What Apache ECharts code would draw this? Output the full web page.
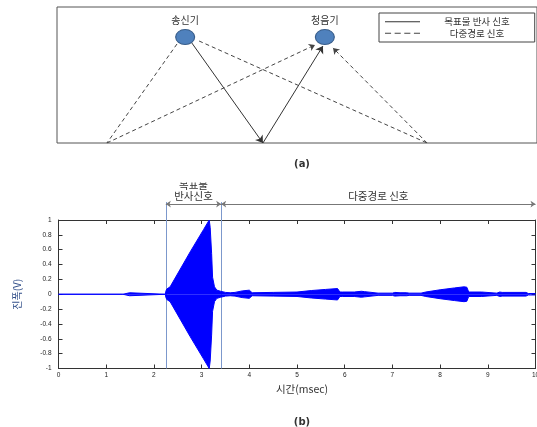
<!DOCTYPE html>
<html>
<head>
<meta charset="utf-8">
<script src="https://cdn.jsdelivr.net/npm/echarts@6/dist/echarts.min.js"></script>
<style>
  html, body { margin: 0; padding: 0; background: #fff; }
  #chart { width: 537px; height: 427px; }
</style>
</head>
<body>
<div id="chart"></div>
<script>
// (a) 배치도 - positions on a 0..100 schematic scale
const nodeNames = ['송신기', '청음기'];
const nodePos = [[26.7, 77.9], [55.8, 77.9]];
const directPath = [[28.1, 73.5], [42.9, 0], [55.4, 71.3]];
const multiPathA = [[25.0, 72.8], [10.4, 0], [53.75, 72.1]];
const multiPathB = [[29.6, 75.0], [77.1, 0], [57.5, 69.9]];
const legendNames = ['목표물 반사 신호', '다중경로 신호'];

// (b) 수신 신호 envelope (msec, V)
const sigTime = [0, 1.35, 1.36, 1.49, 1.5, 2.24, 2.25, 2.27, 2.34, 2.76, 3.04, 3.16, 3.18, 3.21, 3.23,
  3.27, 3.32, 3.4, 3.5, 3.6, 3.7, 3.85, 4.0, 4.06, 4.1, 4.5, 5.0, 5.3, 5.6, 5.85, 5.9, 5.95, 6.2,
  6.35, 6.42, 6.46, 6.7, 7.0, 7.05, 7.16, 7.3, 7.35, 7.6, 7.7, 8.0, 8.3, 8.5, 8.56, 8.6, 8.87, 8.9,
  9.19, 9.25, 9.3, 9.8, 9.85, 10];
const sigAmp = [0, 0, 0.02, 0.02, 0, 0, 0.04, 0.07, 0.1, 0.57, 0.87, 1.0, 0.9, 0.55, 0.23,
  0.1, 0.055, 0.04, 0.025, 0.02, 0.025, 0.045, 0.055, 0.02, 0.025, 0.025, 0.03, 0.05, 0.065, 0.077, 0.03, 0.03, 0.03,
  0.04, 0.035, 0.015, 0.015, 0.015, 0.025, 0.02, 0.02, 0.015, 0.015, 0.03, 0.06, 0.085, 0.1, 0.095, 0.03, 0.03, 0.015,
  0.015, 0.03, 0.025, 0.025, 0.01, 0.01];

// 구간 표시
const echoStart = 2.25;
const echoEnd = 3.41;
const arrowLevel = 1.216;
const markerTop = 1.243;
const xTicks = [0, 10, 1];
const yTicks = [-1, 1, 0.2];

const chart = echarts.init(document.getElementById('chart'));

const upper = sigTime.map((t, i) => [t, sigAmp[i]]);
const lower = sigTime.map((t, i) => [t, -sigAmp[i]]);
const seg = (p, a, b) => ({ coords: [p[a], p[b]] });

const tickFont = { fontSize: 6.5, color: '#222', fontFamily: 'Liberation Sans' };
const krFont = 'Noto Sans CJK KR';
const gridBase = { containLabel: false, outerBoundsMode: 'none' };

chart.setOption({
    animation: false,
    title: [
        { text: '(a)', left: 297, top: 154, textAlign: 'center',
          textStyle: { fontSize: 10, fontWeight: 'bold', color: '#333', fontFamily: 'DejaVu Sans' } },
        { text: '(b)', left: 297, top: 412, textAlign: 'center',
          textStyle: { fontSize: 10, fontWeight: 'bold', color: '#333', fontFamily: 'DejaVu Sans' } }
    ],
    legend: {
        orient: 'vertical',
        left: 379, top: 13,
        padding: [4, 25, 4, 6],
        borderColor: '#444', borderWidth: 1,
        itemWidth: 35, itemHeight: 8, itemGap: 2,
        itemStyle: { borderWidth: 0 },
        lineStyle: { width: 0 },
        formatter: name => '{c|' + name + '}',
        textStyle: {
            fontSize: 9, color: '#333', fontFamily: krFont,
            rich: { c: { width: 84, align: 'center', padding: [0, 0, 0, 10], fontSize: 9.5, color: '#333', fontFamily: krFont } }
        },
        data: [
            { name: legendNames[0], icon: 'path://M0,0H35V1H0Z' },
            { name: legendNames[1], icon: 'path://M0,0H6V1H0ZM9.5,0H15.5V1H9.5ZM19,0H25V1H19ZM28.5,0H34.5V1H28.5Z' }
        ]
    },
    grid: [
        Object.assign({ left: 57, top: 7, right: 0, height: 136, show: true, borderColor: '#555', borderWidth: 1 }, gridBase),
        Object.assign({ left: 58.5, top: 220, right: 1.5, height: 148.5 }, gridBase),
        Object.assign({ left: 58.5, top: 183, right: 1.5, height: 185.5 }, gridBase)
    ],
    xAxis: [
        { gridIndex: 0, type: 'value', min: 0, max: 100, show: false },
        { gridIndex: 1, type: 'value', min: xTicks[0], max: xTicks[1], interval: xTicks[2],
          name: '시간(msec)', nameLocation: 'middle', nameGap: 15,
          nameTextStyle: { fontSize: 10.5, color: '#333', fontFamily: krFont, padding: [0, 0, 0, 10] },
          axisLine: { onZero: false, lineStyle: { color: '#333' } },
          axisTick: { inside: true, length: 4, lineStyle: { color: '#333' } },
          axisLabel: Object.assign({ margin: 3 }, tickFont),
          splitLine: { show: false } },
        { gridIndex: 1, type: 'value', position: 'top', min: xTicks[0], max: xTicks[1], interval: xTicks[2],
          axisLine: { onZero: false, lineStyle: { color: '#333' } },
          axisTick: { inside: true, length: 4, lineStyle: { color: '#333' } },
          axisLabel: { show: false }, splitLine: { show: false } },
        { gridIndex: 2, type: 'value', min: 0, max: 10, show: false }
    ],
    yAxis: [
        { gridIndex: 0, type: 'value', min: 0, max: 100, show: false },
        { gridIndex: 1, type: 'value', min: yTicks[0], max: yTicks[1], interval: yTicks[2],
          name: '진폭(V)', nameLocation: 'middle', nameGap: 36, nameRotate: 90,
          nameTextStyle: { fontSize: 10, color: '#33508a', fontFamily: krFont },
          axisLine: { show: true, onZero: false, lineStyle: { color: '#333' } },
          axisTick: { show: true, inside: true, length: 4, lineStyle: { color: '#333' } },
          axisLabel: Object.assign({ margin: 7, formatter: v => String(+v.toFixed(1)) }, tickFont),
          splitLine: { show: false } },
        { gridIndex: 1, type: 'value', position: 'right', min: yTicks[0], max: yTicks[1], interval: yTicks[2],
          axisLine: { show: true, onZero: false, lineStyle: { color: '#333' } },
          axisTick: { show: true, inside: true, length: 4, lineStyle: { color: '#333' } },
          axisLabel: { show: false }, splitLine: { show: false } },
        { gridIndex: 2, type: 'value', min: -1, max: 1.5, show: false }
    ],
    series: [
        // (a) 경로
        { type: 'lines', name: legendNames[0], coordinateSystem: 'cartesian2d', xAxisIndex: 0, yAxisIndex: 0,
          symbol: ['none', 'arrow'], symbolSize: 7,
          lineStyle: { color: '#333', width: 1, type: 'solid', opacity: 1 },
          data: [seg(directPath, 0, 1), seg(directPath, 1, 2)] },
        { type: 'lines', name: legendNames[1], coordinateSystem: 'cartesian2d', xAxisIndex: 0, yAxisIndex: 0,
          symbol: ['none', 'none'],
          lineStyle: { color: '#444', width: 1, type: [4, 3], opacity: 1 },
          data: [seg(multiPathA, 0, 1), seg(multiPathB, 0, 1)] },
        { type: 'lines', name: legendNames[1], coordinateSystem: 'cartesian2d', xAxisIndex: 0, yAxisIndex: 0,
          symbol: ['none', 'arrow'], symbolSize: 6,
          lineStyle: { color: '#444', width: 1, type: [4, 3], opacity: 1 },
          data: [seg(multiPathA, 1, 2), seg(multiPathB, 1, 2)] },
        { type: 'scatter', xAxisIndex: 0, yAxisIndex: 0,
          symbol: 'circle', symbolSize: [19, 15],
          itemStyle: { color: '#4f81bd', borderColor: '#385d8a', borderWidth: 1, opacity: 1 },
          label: { show: true, position: 'top', distance: 4, formatter: '{b}',
                   fontSize: 10, color: '#333', fontFamily: krFont },
          data: nodeNames.map((n, i) => ({ name: n, value: nodePos[i] })) },
        // (b) 신호
        { type: 'line', xAxisIndex: 1, yAxisIndex: 1, data: upper, showSymbol: false,
          lineStyle: { color: '#0000ff', width: 1 }, areaStyle: { color: '#0000ff', opacity: 1 } },
        { type: 'line', xAxisIndex: 1, yAxisIndex: 1, data: lower, showSymbol: false,
          lineStyle: { color: '#0000ff', width: 1 }, areaStyle: { color: '#0000ff', opacity: 1 } },
        // 구간 경계선
        { type: 'lines', coordinateSystem: 'cartesian2d', xAxisIndex: 3, yAxisIndex: 3,
          symbol: ['none', 'none'],
          lineStyle: { color: '#7c98cc', width: 1, opacity: 1 },
          data: [{ coords: [[echoStart, -1], [echoStart, markerTop]] },
                 { coords: [[echoEnd, -1], [echoEnd, markerTop]] }] },
        // 구간 화살표
        { type: 'lines', coordinateSystem: 'cartesian2d', xAxisIndex: 3, yAxisIndex: 3,
          symbol: ['arrow', 'arrow'], symbolSize: 5,
          lineStyle: { color: '#777', width: 1, opacity: 1 },
          label: { show: true, position: 'middle', distance: 3, color: '#333',
                   fontSize: 10.5, lineHeight: 11, fontFamily: krFont, formatter: p => p.name },
          data: [{ name: '목표물\n반사신호', coords: [[echoStart, arrowLevel], [echoEnd, arrowLevel]] },
                 { name: '다중경로 신호', coords: [[echoEnd, arrowLevel], [xTicks[1], arrowLevel]] }] }
    ]
});
</script>
</body>
</html>
